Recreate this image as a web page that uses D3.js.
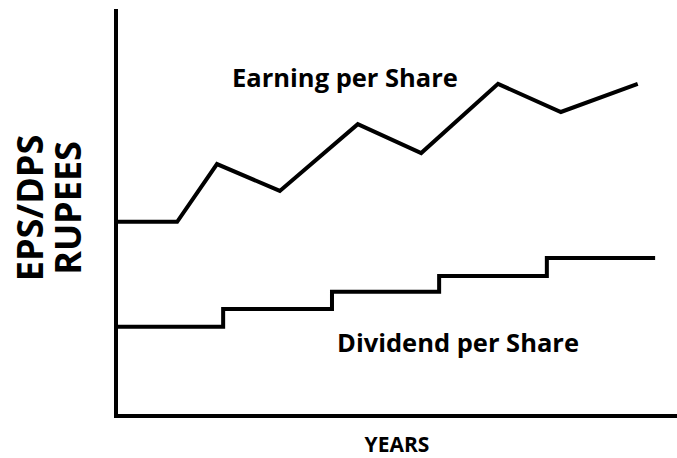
<!DOCTYPE html>
<html>
<head>
<meta charset="utf-8">
<script src="https://cdn.jsdelivr.net/npm/d3@7"></script>
<style>
  html, body { margin: 0; padding: 0; background: #fff; }
  svg { display: block; }
  text { font-family: "Open Sans", Lato, sans-serif; font-weight: bold; fill: #000; }
</style>
</head>
<body>
<svg id="chart" width="677" height="458"></svg>
<script>
// Earnings per share: turning points (year position, rupees)
const epsYears  = [0, 1.09, 1.80, 2.92, 4.31, 5.44, 6.81, 7.93, 9.30];
const epsValues = [4.77, 4.77, 6.19, 5.53, 7.17, 6.46, 8.16, 7.47, 8.16];

// Dividend per share: stepped payout, each level starts at its year position
const dpsYears  = [0, 1.91, 3.85, 5.76, 7.68, 9.61];
const dpsValues = [2.19, 2.63, 3.05, 3.44, 3.88, 3.88];

const xDomain = [0, 10];
const yDomain = [0, 10];

const svg = d3.select("#chart");
const plot = { left: 116, right: 677, top: 9, bottom: 416 };

const x = d3.scaleLinear().domain(xDomain).range([plot.left, plot.right]);
const y = d3.scaleLinear().domain(yDomain).range([plot.bottom, plot.top]);

// Axes drawn as bare lines, no ticks
svg.append("path")
  .attr("d", `M${x(0)},${y(10)} L${x(0)},${y(0)} L${x(10)},${y(0)}`)
  .attr("fill", "none")
  .attr("stroke", "#000")
  .attr("stroke-width", 4)
  .attr("stroke-linejoin", "miter");

const epsLine = d3.line()
  .x((d, i) => x(epsYears[i]))
  .y(d => y(d));

svg.append("path")
  .attr("d", epsLine(epsValues))
  .attr("fill", "none")
  .attr("stroke", "#000")
  .attr("stroke-width", 4)
  .attr("stroke-linejoin", "miter");

const dpsLine = d3.line()
  .x((d, i) => x(dpsYears[i]))
  .y(d => y(d))
  .curve(d3.curveStepAfter);

svg.append("path")
  .attr("d", dpsLine(dpsValues))
  .attr("fill", "none")
  .attr("stroke", "#000")
  .attr("stroke-width", 4)
  .attr("stroke-linejoin", "miter");

// Series labels
svg.append("text")
  .attr("x", 345).attr("y", 87)
  .attr("text-anchor", "middle")
  .attr("font-size", 25.5)
  .text("Earning per Share");

svg.append("text")
  .attr("x", 458).attr("y", 352)
  .attr("text-anchor", "middle")
  .attr("font-size", 25.5)
  .text("Dividend per Share");

// Axis titles
svg.append("text")
  .attr("x", 397).attr("y", 452)
  .attr("text-anchor", "middle")
  .attr("font-size", 21)
  .text("YEARS");

const yTitle = svg.append("text")
  .attr("transform", "translate(0,208) rotate(-90)")
  .attr("text-anchor", "middle")
  .attr("font-size", 36);
yTitle.append("tspan").attr("x", 0).attr("y", 43).text("EPS/DPS");
yTitle.append("tspan").attr("x", 0).attr("y", 81).text("RUPEES");
</script>
</body>
</html>
